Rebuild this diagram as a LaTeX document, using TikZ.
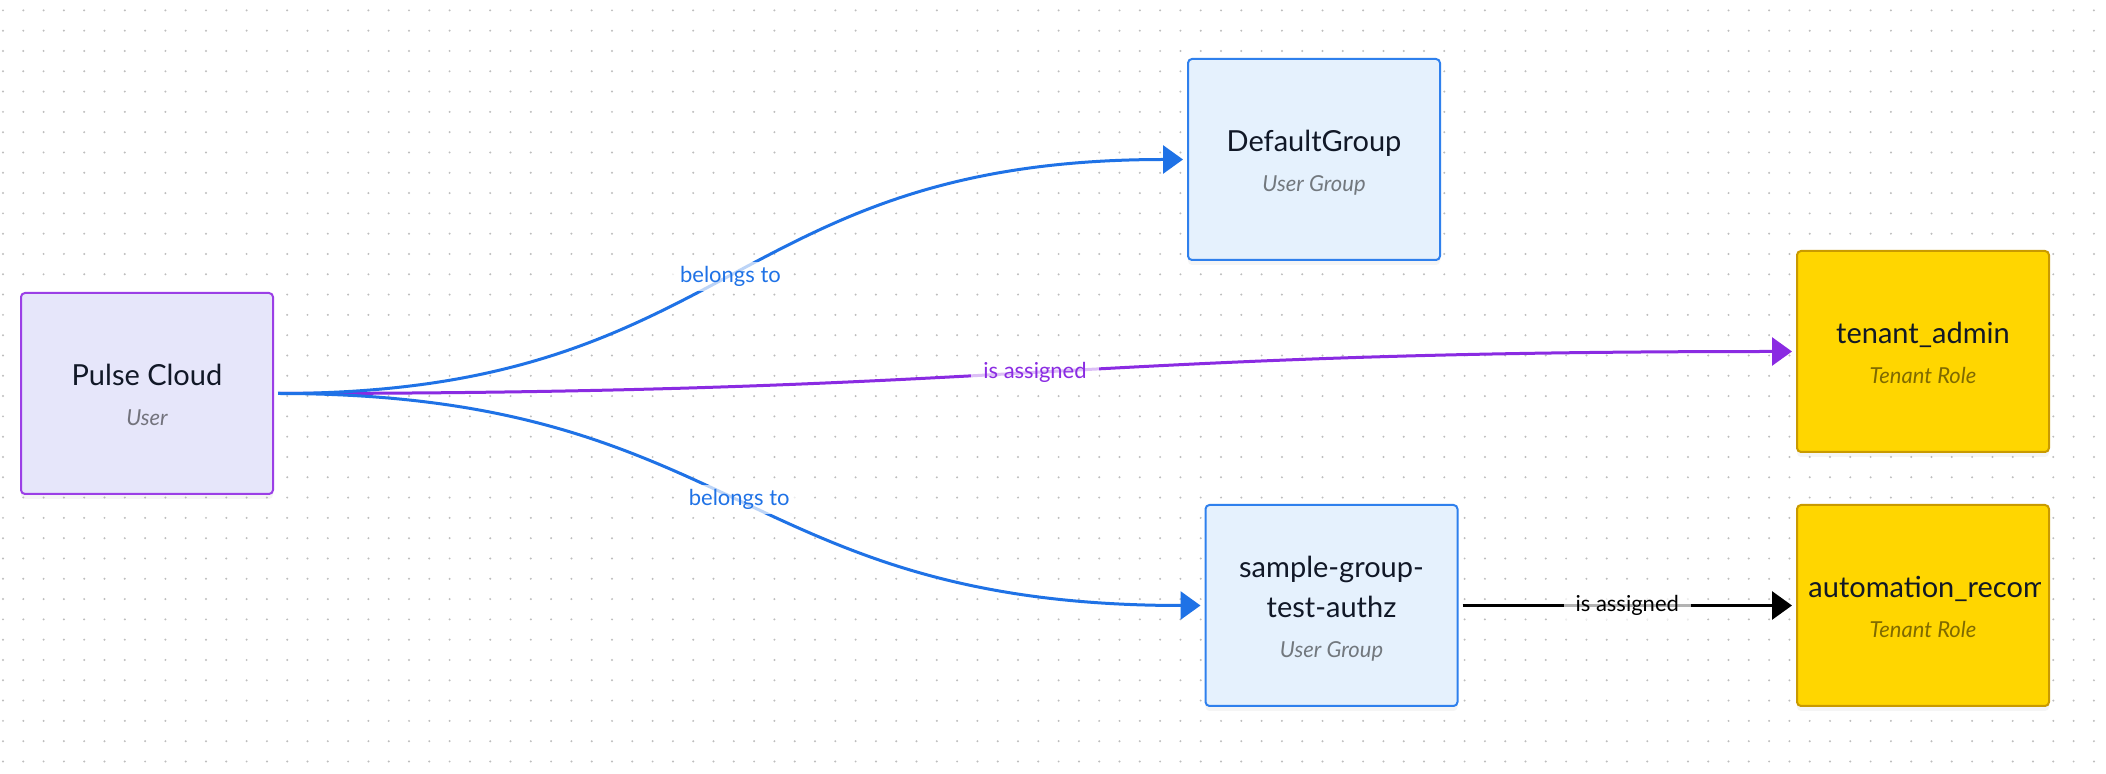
\documentclass[tikz,border=0pt]{standalone}
\usepackage{fontspec}
\setmainfont{Lato}
\usetikzlibrary{arrows.meta,shadows}

\definecolor{edgeblue}{HTML}{1F72E6}
\definecolor{edgepurple}{HTML}{8A2BE2}
\definecolor{userfill}{HTML}{E6E6FA}
\definecolor{userdraw}{HTML}{9B3FE6}
\definecolor{groupfill}{HTML}{E5F1FD}
\definecolor{groupdraw}{HTML}{2F80ED}
\definecolor{rolefill}{HTML}{FFD600}
\definecolor{roledraw}{HTML}{C99A00}
\definecolor{gridgray}{HTML}{BDBDBD}
\definecolor{namecol}{HTML}{111827}

\tikzset{
  entity/.style={draw, rounded corners=2pt, line width=1pt,
    minimum width=126pt, minimum height=100.5pt, inner sep=0pt, outer sep=2.5pt,
    drop shadow={shadow xshift=0pt, shadow yshift=-2.5pt, opacity=0.08}},
  userbox/.style={entity, draw=userdraw, fill=userfill},
  groupbox/.style={entity, draw=groupdraw, fill=groupfill},
  rolebox/.style={entity, draw=roledraw, fill=rolefill},
  nametext/.style={anchor=base, inner sep=0pt, text=namecol,
    font=\fontsize{14.5}{17}\selectfont},
  kindtext/.style={anchor=base, inner sep=0pt, text=black, text opacity=0.5,
    font=\fontsize{11}{13}\selectfont\itshape},
  link/.style={-{Triangle[length=10pt,width=14pt]}, line width=1.5pt},
  curvy/.style={out=0, in=180, looseness=1.25},
  reltag/.style={midway, fill=white, fill opacity=0.7, text opacity=1,
    inner xsep=6pt, inner ysep=2pt, font=\fontsize{11}{13}\selectfont},
}

\begin{document}
\begin{tikzpicture}[x=0.5pt,y=-0.5pt]
  \useasboundingbox (0,0) rectangle (2106,774);
  \fill[white] (0,0) rectangle (2106,774);
  % dot grid
  \foreach \i in {0,...,103}
    \foreach \j in {0,...,37}
      \fill[gridgray] (3+20.3*\i,10.4+20.3*\j) circle (0.55pt);

  % entities
  \node[userbox]  (user)   at (147,393.5)  {};
  \node[groupbox] (dflt)   at (1314,159.5) {};
  \node[rolebox]  (admin)  at (1923,351.5) {};
  \node[groupbox] (sample) at (1331.5,605.5) {};
  \node[rolebox]  (recom)  at (1923,605.5) {};

  \node[nametext] (userN)  at ([yshift=4pt]user.center)  {Pulse Cloud};
  \node[kindtext] (userK)  at ([yshift=-16pt]user.center) {User};
  \node[nametext] (dfltN)  at ([yshift=4pt]dflt.center)  {DefaultGroup};
  \node[kindtext] (dfltK)  at ([yshift=-16pt]dflt.center) {User Group};
  \node[nametext] (adminN) at ([yshift=4pt]admin.center) {tenant\_admin};
  \node[kindtext] (adminK) at ([yshift=-16pt]admin.center) {Tenant Role};
  \node[nametext] (sampleN)  at ([yshift=14pt]sample.center) {sample-group-};
  \node[nametext] (sampleN2) at ([yshift=-6pt]sample.center) {test-authz};
  \node[kindtext] (sampleK)  at ([yshift=-26pt]sample.center) {User Group};
  \begin{scope}
    \clip ([xshift=-58pt,yshift=-50pt]recom.center) rectangle ([xshift=58.5pt,yshift=50pt]recom.center);
    \node[nametext,anchor=base west] (recomN) at ([xshift=-57.5pt,yshift=4pt]recom.center) {automation\_recom};
  \end{scope}
  \node[kindtext] (recomK) at ([yshift=-16pt]recom.center) {Tenant Role};

  % relations
  \draw[link,edgepurple] (user.east) to[curvy] node[reltag] {is assigned} (admin.west);
  \draw[link,edgeblue] (user.east) to[curvy] node[reltag] {belongs to} (dflt.west);
  \draw[link,edgeblue] (user.east) to[curvy] node[reltag] {belongs to} (sample.west);
  \draw[link,black] (sample.east) -- node[reltag] {is assigned} (recom.west);
\end{tikzpicture}
\end{document}
